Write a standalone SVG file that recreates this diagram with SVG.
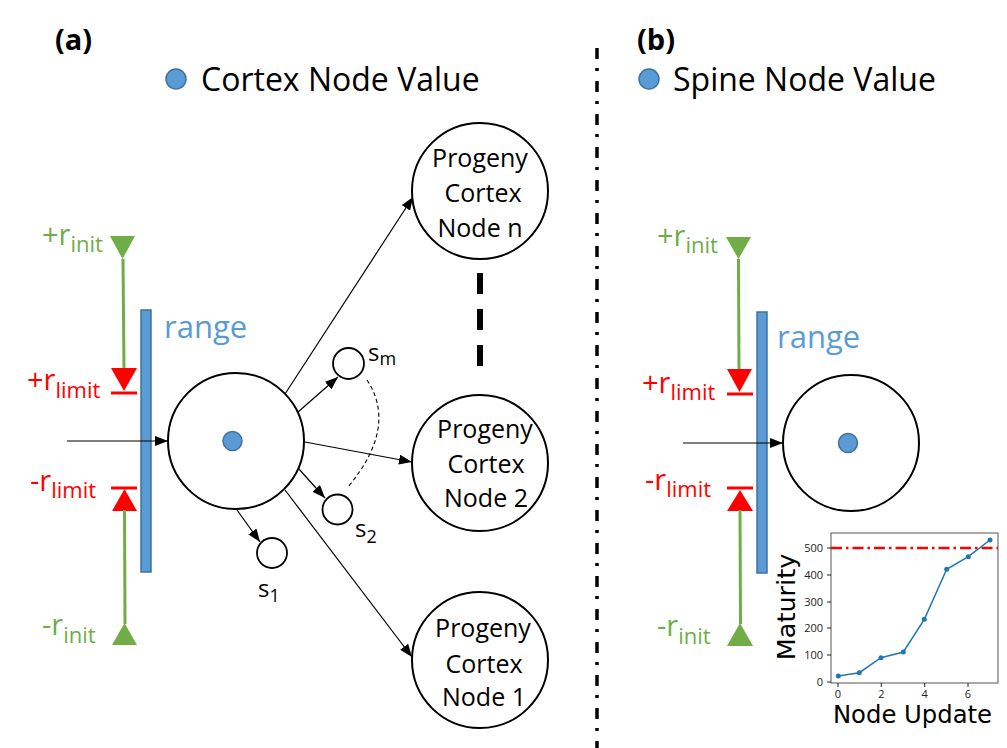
<svg xmlns="http://www.w3.org/2000/svg" width="1007" height="748" viewBox="0 0 1007 748">
<style>
text{font-family:"Open Sans","Noto Sans","Liberation Sans",sans-serif;}
.hdr{font-size:29px;font-weight:bold;fill:#000;}
.leg{font-size:32px;fill:#000;}
.grn{fill:#70ad47;}
.red{fill:#ff0000;}
.big{font-size:29px;}
.sub{font-size:22px;}
.rng{font-size:31px;fill:#5b9bd5;}
.gline{stroke:#70ad47;stroke-width:3;fill:none;}
.rbar{stroke:#ff0000;stroke-width:3;fill:none;}
.bar{fill:#5b9bd5;stroke:#41719c;stroke-width:1.5;}
.dot{fill:#5b9bd5;stroke:#41719c;stroke-width:1.5;}
.node{fill:#fff;stroke:#000;stroke-width:2;}
.snode{fill:#fff;stroke:#000;stroke-width:1.8;}
.ntxt{font-size:25px;fill:#000;text-anchor:middle;}
.slab{font-size:24px;fill:#000;}
.ssub{font-size:18px;fill:#000;}
.conn{stroke:#000;stroke-width:1.2;fill:none;}
.tick{font-family:"DejaVu Sans",sans-serif;font-size:11px;fill:#222;}
.axl{font-family:"DejaVu Sans",sans-serif;font-size:24.3px;fill:#000;}
</style>
<defs>
<marker id="ah" markerWidth="13" markerHeight="10" refX="13" refY="5" orient="auto" markerUnits="userSpaceOnUse"><path d="M0,0 L13,5 L0,10 z" fill="#000"/></marker>
</defs>
<rect width="1007" height="748" fill="#fff"/>

<!-- divider -->
<line x1="597" y1="48" x2="597" y2="748" stroke="#000" stroke-width="3.5" stroke-dasharray="11,9,3,10"/>

<!-- headers -->
<g id="header-a">
<text class="hdr" x="55" y="50">(a)</text>
<circle class="dot" cx="176" cy="79" r="10"/>
<text class="leg" x="201" y="91">Cortex Node Value</text>
</g>
<g id="header-b">
<text class="hdr" x="637" y="50">(b)</text>
<circle class="dot" cx="649" cy="79" r="10"/>
<text class="leg" x="673" y="91">Spine Node Value</text>
</g>

<!-- panel a range -->
<g id="range-a">
<polygon points="110,236 135,236 122.5,259" fill="#70ad47"/>
<line class="gline" x1="123" y1="259" x2="124" y2="369"/>
<polygon points="111,368 137,368 124,391" fill="#ff0000"/>
<line class="rbar" x1="111" y1="393" x2="137" y2="393"/>
<line class="rbar" x1="111" y1="488" x2="137" y2="488"/>
<polygon points="124.5,489 137,511 112,511" fill="#ff0000"/>
<line class="gline" x1="124.5" y1="510" x2="125" y2="624"/>
<polygon points="124.5,623 137,645 112,645" fill="#70ad47"/>
<rect class="bar" x="141" y="310" width="10" height="262"/>
<text class="rng" x="164" y="338">range</text>
<text class="grn" x="42" y="245"><tspan class="big">+r</tspan><tspan class="sub" dy="7">init</tspan></text>
<text class="red" x="27" y="390"><tspan class="big">+r</tspan><tspan class="sub" dy="8">limit</tspan></text>
<text class="red" x="30" y="491"><tspan class="big">-r</tspan><tspan class="sub" dy="7">limit</tspan></text>
<text class="grn" x="42" y="635"><tspan class="big">-r</tspan><tspan class="sub" dy="8">init</tspan></text>
</g>

<!-- panel b range -->
<g id="range-b">
<polygon points="726,237 751,237 738.5,259" fill="#70ad47"/>
<line class="gline" x1="738.5" y1="259" x2="739" y2="370"/>
<polygon points="727,369 752,369 739.5,392" fill="#ff0000"/>
<line class="rbar" x1="727" y1="394" x2="753" y2="394"/>
<line class="rbar" x1="727" y1="488" x2="753" y2="488"/>
<polygon points="740,490 753,511 727,511" fill="#ff0000"/>
<line class="gline" x1="740" y1="510" x2="740.5" y2="624"/>
<polygon points="740,623 753,646 727,646" fill="#70ad47"/>
<rect class="bar" x="757" y="312" width="10" height="261"/>
<text class="rng" x="777" y="348">range</text>
<text class="grn" x="657" y="246"><tspan class="big">+r</tspan><tspan class="sub" dy="7">init</tspan></text>
<text class="red" x="642" y="393"><tspan class="big">+r</tspan><tspan class="sub" dy="7">limit</tspan></text>
<text class="red" x="645" y="490"><tspan class="big">-r</tspan><tspan class="sub" dy="7">limit</tspan></text>
<text class="grn" x="657" y="636"><tspan class="big">-r</tspan><tspan class="sub" dy="8">init</tspan></text>
</g>

<!-- connectors -->
<g id="connectors">
<line class="conn" x1="67" y1="441" x2="168" y2="441" marker-end="url(#ah)"/>
<line class="conn" x1="285" y1="394" x2="413" y2="197" marker-end="url(#ah)"/>
<line class="conn" x1="298" y1="412" x2="338" y2="377" marker-end="url(#ah)"/>
<line class="conn" x1="305" y1="442" x2="412" y2="462" marker-end="url(#ah)"/>
<line class="conn" x1="298" y1="468" x2="325" y2="498" marker-end="url(#ah)"/>
<line class="conn" x1="285" y1="490" x2="412" y2="657" marker-end="url(#ah)"/>
<line class="conn" x1="237" y1="510" x2="260" y2="542" marker-end="url(#ah)"/>
<path d="M367,380 Q398,427 348,487" fill="none" stroke="#000" stroke-width="1.1" stroke-dasharray="4,3"/>
<line x1="480" y1="273" x2="480" y2="366" stroke="#000" stroke-width="6" stroke-dasharray="21,15"/>
<line class="conn" x1="683" y1="443" x2="783" y2="443" marker-end="url(#ah)"/>
</g>

<!-- cortex node -->
<g id="cortex-node">
<circle class="node" cx="236" cy="441" r="68"/>
<circle class="dot" cx="232.5" cy="441" r="9.5"/>
</g>

<g id="node-n">
<circle class="node" cx="480" cy="191" r="68"/>
<text class="ntxt" x="480" y="167">Progeny</text>
<text class="ntxt" x="483" y="202">Cortex</text>
<text class="ntxt" x="480" y="237">Node n</text>
</g>
<g id="node-2">
<circle class="node" cx="480" cy="463" r="68"/>
<text class="ntxt" x="485" y="438">Progeny</text>
<text class="ntxt" x="486" y="473">Cortex</text>
<text class="ntxt" x="486" y="507">Node 2</text>
</g>
<g id="node-1">
<circle class="node" cx="480" cy="660" r="68"/>
<text class="ntxt" x="483" y="637">Progeny</text>
<text class="ntxt" x="484" y="673">Cortex</text>
<text class="ntxt" x="484" y="706">Node 1</text>
</g>

<g id="s1">
<circle class="snode" cx="272" cy="553" r="15"/>
<text x="258" y="597"><tspan class="slab">s</tspan><tspan class="ssub" dy="5">1</tspan></text>
</g>
<g id="s2">
<circle class="snode" cx="337.5" cy="509.5" r="15"/>
<text x="355" y="537"><tspan class="slab">s</tspan><tspan class="ssub" dy="6">2</tspan></text>
</g>
<g id="sm">
<circle class="snode" cx="348.5" cy="363.5" r="15.5"/>
<text x="368" y="361"><tspan class="slab">s</tspan><tspan class="ssub" dy="4">m</tspan></text>
</g>

<!-- spine node -->
<g id="spine-node">
<circle class="node" cx="851" cy="443" r="68"/>
<circle class="dot" cx="848" cy="443" r="9.5"/>
</g>

<!-- maturity chart -->
<g id="chart">
<rect x="831" y="533" width="167" height="150" fill="#fff" stroke="#555" stroke-width="1"/>
<g stroke="#222" stroke-width="1">
<line x1="827" y1="682" x2="831" y2="682"/>
<line x1="827" y1="655" x2="831" y2="655"/>
<line x1="827" y1="628" x2="831" y2="628"/>
<line x1="827" y1="602" x2="831" y2="602"/>
<line x1="827" y1="575" x2="831" y2="575"/>
<line x1="827" y1="548" x2="831" y2="548"/>
<line x1="838" y1="683" x2="838" y2="687"/>
<line x1="881.3" y1="683" x2="881.3" y2="687"/>
<line x1="924.7" y1="683" x2="924.7" y2="687"/>
<line x1="968" y1="683" x2="968" y2="687"/>
</g>
<g class="tick" text-anchor="end">
<text x="823" y="686">0</text>
<text x="823" y="659">100</text>
<text x="823" y="632">200</text>
<text x="823" y="606">300</text>
<text x="823" y="579">400</text>
<text x="823" y="552">500</text>
</g>
<g class="tick" text-anchor="middle">
<text x="838" y="698">0</text>
<text x="881.3" y="698">2</text>
<text x="924.7" y="698">4</text>
<text x="968" y="698">6</text>
</g>
<line x1="831" y1="548" x2="998" y2="548" stroke="#ff0000" stroke-width="2.5" stroke-dasharray="11,4,2.5,4"/>
<polyline points="838.3,676 859.3,672.7 881,657.7 903.3,652 924.3,619.3 946.7,569.3 968.3,556.7 990,540" fill="none" stroke="#1f77b4" stroke-width="1.5"/>
<g fill="#1f77b4">
<circle cx="838.3" cy="676" r="2.5"/>
<circle cx="859.3" cy="672.7" r="2.5"/>
<circle cx="881" cy="657.7" r="2.5"/>
<circle cx="903.3" cy="652" r="2.5"/>
<circle cx="924.3" cy="619.3" r="2.5"/>
<circle cx="946.7" cy="569.3" r="2.5"/>
<circle cx="968.3" cy="556.7" r="2.5"/>
<circle cx="990" cy="540" r="2.5"/>
</g>
<text class="axl" transform="translate(795,607) rotate(-90)" text-anchor="middle" style="font-size:25.5px">Maturity</text>
<text class="axl" x="912.5" y="723" text-anchor="middle">Node Update</text>
</g>
</svg>
